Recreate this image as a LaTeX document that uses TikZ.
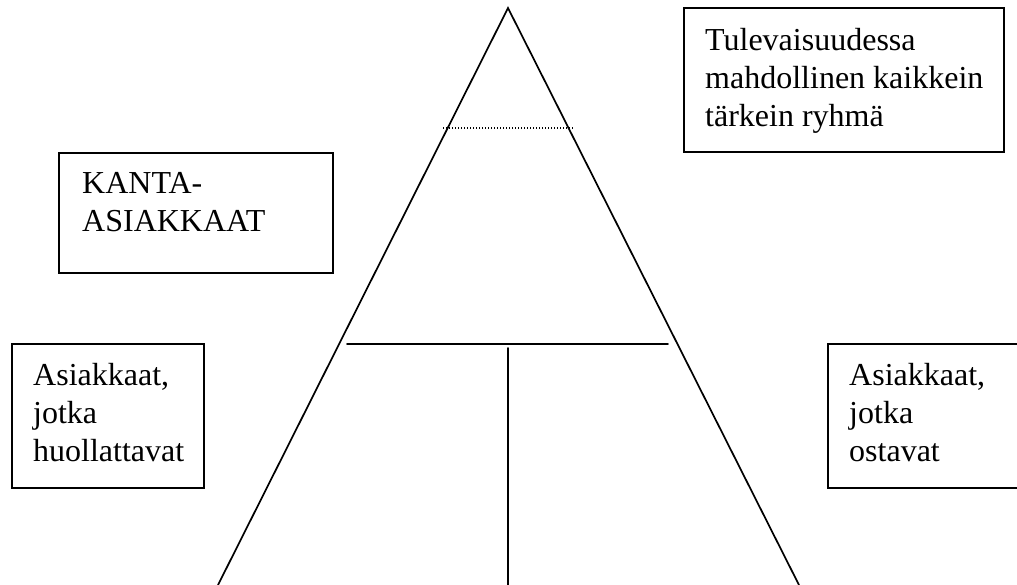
\documentclass[tikz,border=0pt]{standalone}
\usepackage{fontspec}
\setmainfont{Liberation Serif}
\begin{document}
\begin{tikzpicture}[x=1pt,y=-1pt,
  edge/.style={line width=1.7pt, line cap=round},
  frame/.style={draw, line width=1.6pt, rectangle, inner sep=0pt},
  label/.style={inner sep=0pt, anchor=base west,
    font=\fontsize{32}{38}\selectfont},
  dotline/.style={line width=1.3pt, dash pattern=on 1.3pt off 1.7pt}]
  \useasboundingbox (0,0) rectangle (1017,584);

  % pyramid
  \coordinate (apex) at (508,8);
  \coordinate (bl) at (218,585);
  \coordinate (br) at (799,585);
  \draw[edge] (bl) -- (apex) -- (br);

  % dotted top tier
  \coordinate (d1) at (443,128);
  \coordinate (d2) at (573,128);
  \draw[dotline] (d1) -- (d2);

  % middle divider and vertical split
  \coordinate (h1) at (347,344);
  \coordinate (h2) at (668,344);
  \draw[edge] (h1) -- (h2);
  \coordinate (v1) at (508,348);
  \coordinate (v2) at (508,585);
  \draw[edge] (v1) -- (v2);

  % boxes
  \draw[frame] (684,8) rectangle (1004,152);
  \node[label] (future) at (705,50) {\begin{tabular}[t]{@{}l@{}}Tulevaisuudessa\\mahdollinen kaikkein\\tärkein ryhmä\end{tabular}};

  \draw[frame] (59,153) rectangle (333,273);
  \node[label] (core) at (82,193) {\begin{tabular}[t]{@{}l@{}}KANTA-\\ASIAKKAAT\end{tabular}};

  \draw[frame] (12,344) rectangle (204,488);
  \node[label] (service) at (33,385) {\begin{tabular}[t]{@{}l@{}}Asiakkaat,\\jotka\\huollattavat\end{tabular}};

  \draw[frame] (828,344) rectangle (1030,488);
  \node[label] (buyers) at (849,385) {\begin{tabular}[t]{@{}l@{}}Asiakkaat,\\jotka\\ostavat\end{tabular}};
\end{tikzpicture}
\end{document}
